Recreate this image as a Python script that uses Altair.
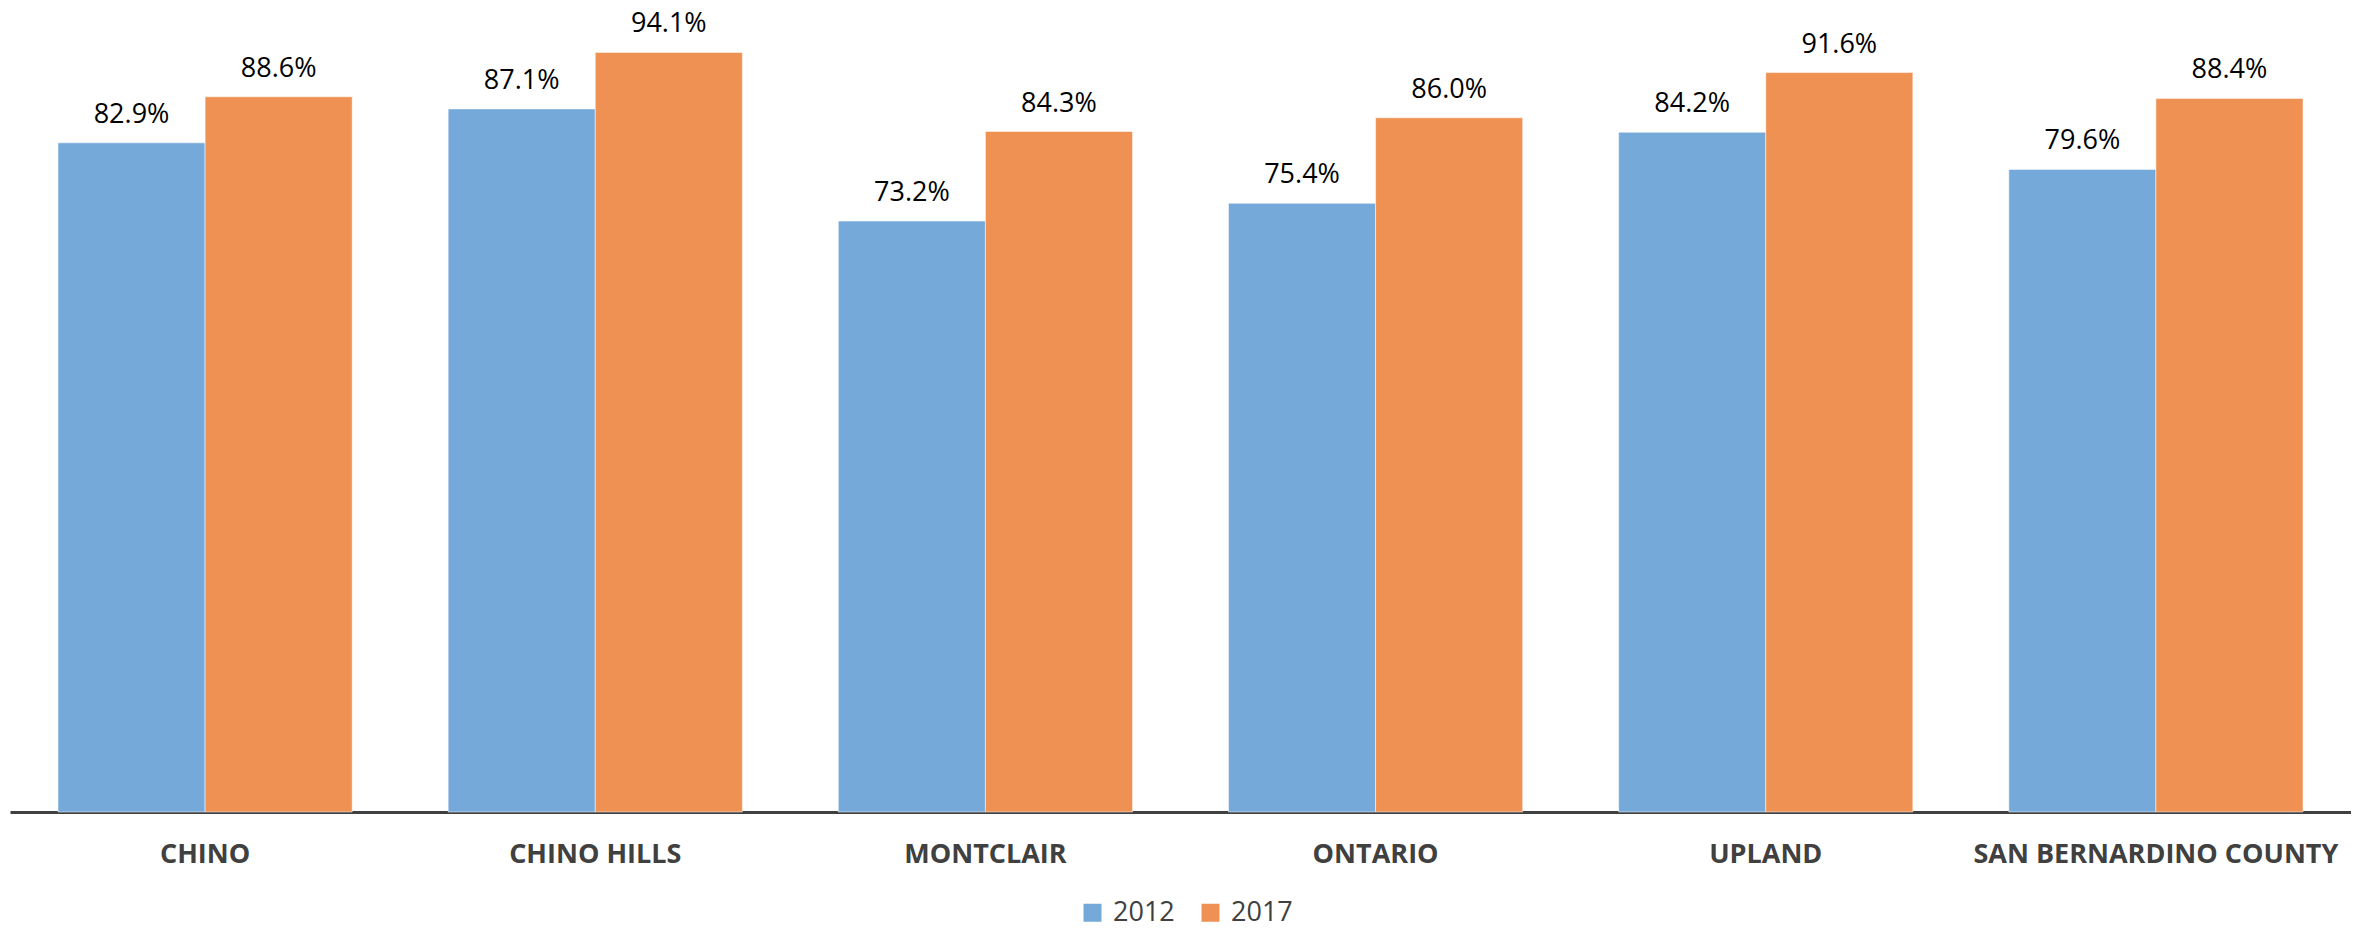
import altair as alt
import pandas as pd

cities = ["CHINO", "CHINO HILLS", "MONTCLAIR", "ONTARIO", "UPLAND", "SAN BERNARDINO COUNTY"]
years = ["2012", "2017"]
values_2012 = [82.9, 87.1, 73.2, 75.4, 84.2, 79.6]
values_2017 = [88.6, 94.1, 84.3, 86.0, 91.6, 88.4]
colors = ["#75A9DA", "#EF9152"]

rows = []
for c, v1, v2 in zip(cities, values_2012, values_2017):
    rows.append({"city": c, "year": years[0], "value": v1, "label": f"{v1:.1f}%"})
    rows.append({"city": c, "year": years[1], "value": v2, "label": f"{v2:.1f}%"})
df = pd.DataFrame(rows)

x = alt.X("city:N", sort=cities, title=None,
          scale=alt.Scale(paddingInner=0.246, paddingOuter=0.123),
          axis=alt.Axis(domainColor="#404040", domainWidth=3, ticks=False,
                        labelAngle=0, labelFont="Open Sans", labelFontWeight="bold",
                        labelFontSize=27, labelColor="#404040", labelPadding=42,
                        labelBaseline="middle", labelLimit=1000))
xo = alt.XOffset("year:N", sort=years)
y = alt.Y("value:Q", scale=alt.Scale(domain=[0, 99.6], nice=False), axis=None)

bars = alt.Chart(df).mark_bar(stroke="white", strokeWidth=1, strokeOpacity=0.5).encode(
    x=x, xOffset=xo, y=y,
    color=alt.Color("year:N", sort=years, title=None,
                    scale=alt.Scale(domain=years, range=colors),
                    legend=alt.Legend(orient="none", legendX=1069, legendY=891,
                                      direction="horizontal", symbolType="square",
                                      symbolSize=324, symbolStrokeWidth=0,
                                      labelFont="Open Sans", labelFontSize=27,
                                      labelColor="#404040", labelOffset=7,
                                      columnPadding=22, padding=0))
)

text = alt.Chart(df).mark_text(font="Open Sans", fontSize=27, color="#000000",
                               baseline="alphabetic", dy=-20).encode(
    x=x, xOffset=xo, y=y, text="label:N"
)

chart = alt.layer(bars, text).properties(
    width=2341, height=804,
    padding={"left": 2, "top": 0, "right": 0, "bottom": 0}
).configure_view(stroke=None)

chart.save("out.html", embed_options={"renderer": "svg", "actions": False})
